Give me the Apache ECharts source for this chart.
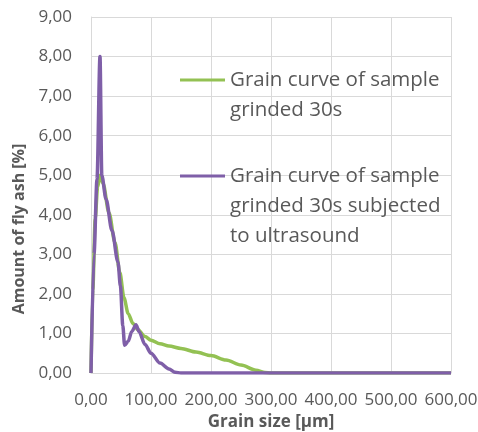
<!DOCTYPE html>
<html>
<head>
<meta charset="utf-8">
<script src="https://cdn.jsdelivr.net/npm/echarts@6/dist/echarts.min.js"></script>
<style>
  html, body { margin: 0; padding: 0; background: #ffffff; }
  #chart { width: 478px; height: 432px; }
</style>
</head>
<body>
<div id="chart"></div>
<script>
// Grain size distribution of fly ash after grinding (sizes in µm, amounts in %)
const grindSizes = [0, 3, 7, 11, 15, 20, 30, 40, 48, 55, 62, 70, 78, 90, 100, 115, 130, 150, 175, 200, 225, 250, 275, 290, 300, 400, 500, 600];
const grindAmounts = [0, 2.1, 3.9, 4.7, 5.0, 4.8, 4.05, 3.3, 2.55, 1.9, 1.5, 1.25, 1.1, 0.92, 0.83, 0.74, 0.68, 0.62, 0.53, 0.44, 0.33, 0.2, 0.07, 0.01, 0, 0, 0, 0];

const ultraSizes = [0, 5, 10, 15, 18, 25, 35, 45, 49, 53, 56, 62, 68, 75, 80, 90, 100, 115, 130, 140, 150, 200, 300, 400, 500, 600];
const ultraAmounts = [0, 3.0, 4.9, 8.0, 5.0, 4.4, 3.6, 2.8, 2.2, 1.2, 0.7, 0.8, 1.05, 1.22, 1.05, 0.72, 0.5, 0.25, 0.1, 0.02, 0, 0, 0, 0, 0, 0];

const seriesNames = [
  'Grain curve of sample\ngrinded 30s',
  'Grain curve of sample\ngrinded 30s subjected\nto ultrasound'
];
const xTitle = 'Grain size [µm]';
const yTitle = 'Amount of fly ash [%]';

const pairs = (xs, ys) => xs.map((x, i) => [x, ys[i]]);
const fmt = v => v.toFixed(2).replace('.', ',');

const FONT = 'Open Sans';
const TEXT = '#595959';
const GRID = '#d9d9d9';

const chart = echarts.init(document.getElementById('chart'), null, { renderer: 'canvas' });

// Legend texts get leading blank lines so the marker sits beside the first line
const legendLabel = name => {
  const n = name.split('\n').length;
  return '\n'.repeat(n - 1) + name;
};

const legendBase = {
  orient: 'vertical',
  left: 180,
  padding: 0,
  icon: 'rect',
  itemWidth: 45,
  itemHeight: 3,
  selectedMode: false,
  formatter: legendLabel,
  textStyle: { fontFamily: FONT, fontSize: 20.5, color: TEXT, lineHeight: 30 }
};

chart.setOption({
  animation: false,
  backgroundColor: '#ffffff',
  grid: { left: 91, right: 27, top: 17, bottom: 59, containLabel: false, outerBoundsMode: 'none' },
  legend: [
    Object.assign({}, legendBase, { top: 35, data: [seriesNames[0]] }),
    Object.assign({}, legendBase, { top: 101, data: [seriesNames[1]] })
  ],
  xAxis: {
    type: 'value',
    min: 0, max: 600, interval: 100,
    name: xTitle,
    nameLocation: 'middle',
    nameGap: 41,
    nameTextStyle: { fontFamily: FONT, fontSize: 17, fontWeight: 'bold', color: TEXT },
    axisLine: { show: true, lineStyle: { color: GRID, width: 1 } },
    axisTick: { show: false },
    splitLine: { show: true, lineStyle: { color: GRID, width: 1 } },
    axisLabel: { fontFamily: FONT, fontSize: 17, color: TEXT, margin: 19, formatter: fmt }
  },
  yAxis: {
    type: 'value',
    min: 0, max: 9, interval: 1,
    name: yTitle,
    nameLocation: 'middle',
    nameGap: 60,
    nameTextStyle: { fontFamily: FONT, fontSize: 16, fontWeight: 'bold', color: TEXT, padding: [0, 68, 0, 0] },
    axisLine: { show: true, lineStyle: { color: GRID, width: 1 } },
    axisTick: { show: false },
    splitLine: { show: true, lineStyle: { color: GRID, width: 1 } },
    axisLabel: { fontFamily: FONT, fontSize: 17, color: TEXT, margin: 19, formatter: fmt }
  },
  series: [
    {
      name: seriesNames[0],
      type: 'line',
      data: pairs(grindSizes, grindAmounts),
      symbol: 'none',
      smooth: 0.3,
      smoothMonotone: 'x',
      lineStyle: { color: '#93C153', width: 3.5 },
      itemStyle: { color: '#93C153' },
      z: 2
    },
    {
      name: seriesNames[1],
      type: 'line',
      data: pairs(ultraSizes, ultraAmounts),
      symbol: 'none',
      smooth: 0.3,
      smoothMonotone: 'x',
      lineStyle: { color: '#7F5FA8', width: 3.5 },
      itemStyle: { color: '#7F5FA8' },
      z: 3
    }
  ]
});
</script>
</body>
</html>
